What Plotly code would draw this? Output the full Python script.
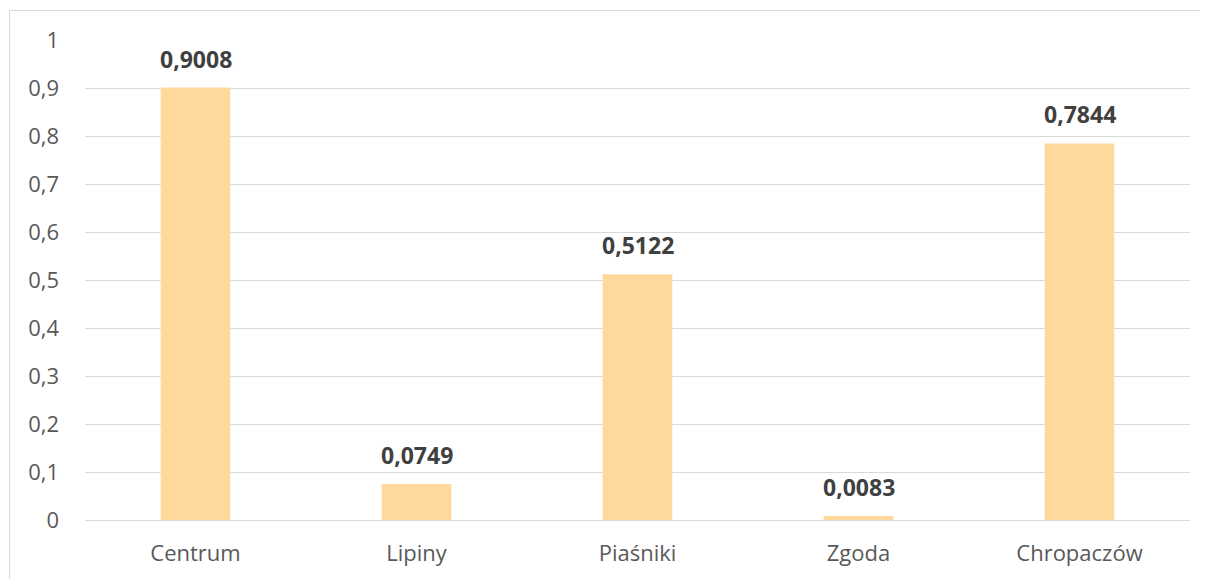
import plotly.graph_objects as go

categories = ["Centrum", "Lipiny", "Piaśniki", "Zgoda", "Chropaczów"]
values = [0.9008, 0.0749, 0.5122, 0.0083, 0.7844]
labels = ["0,9008", "0,0749", "0,5122", "0,0083", "0,7844"]
ytick_vals = [0, 0.1, 0.2, 0.3, 0.4, 0.5, 0.6, 0.7, 0.8, 0.9, 1]
ytick_text = ["0", "0,1", "0,2", "0,3", "0,4", "0,5", "0,6", "0,7", "0,8", "0,9", "1"]

FONT = "Open Sans"
# page body has an 8px margin; size the figure so the plot lands where the reference has it
W, H = 1200, 571
L, R, T, B = 77, 18, 32, 59
pw, ph = W - L - R, H - T - B

fig = go.Figure(go.Bar(
    x=categories, y=values,
    marker=dict(color="#FFD89C", line=dict(width=0)),
    cliponaxis=False, hoverinfo="x+y",
))

for c, v, t in zip(categories, values, labels):
    fig.add_annotation(x=c, y=v, text=t, showarrow=False, yanchor="bottom",
                       yshift=11, font=dict(family=FONT, size=23, color="#404040", weight="bold"))

fig.update_layout(
    width=W, height=H,
    margin=dict(l=L, r=R, t=T, b=B),
    paper_bgcolor="white", plot_bgcolor="white",
    bargap=0.685,
    showlegend=False,
    font=dict(family=FONT, color="#595959", size=22),
    xaxis=dict(showgrid=False, showline=True, linecolor="#D9D9D9", linewidth=1,
               ticks="", tickfont=dict(size=22, color="#595959"), ticklabelstandoff=14),
    yaxis=dict(range=[0, 1], tickvals=ytick_vals, ticktext=ytick_text,
               showgrid=True, gridcolor="#D9D9D9", gridwidth=1,
               zeroline=False, showline=False, ticks="",
               tickfont=dict(size=22, color="#595959"), ticklabelstandoff=25),
    shapes=[dict(type="rect", xref="paper", yref="paper",
                 x0=(1.5 - L) / pw, x1=(W + 20 - L) / pw,
                 y0=-(B + 20) / ph, y1=(H - B - 2.5) / ph,
                 line=dict(color="#D9D9D9", width=1), fillcolor="rgba(0,0,0,0)",
                 layer="below")],
)

fig.write_html("out.html")
